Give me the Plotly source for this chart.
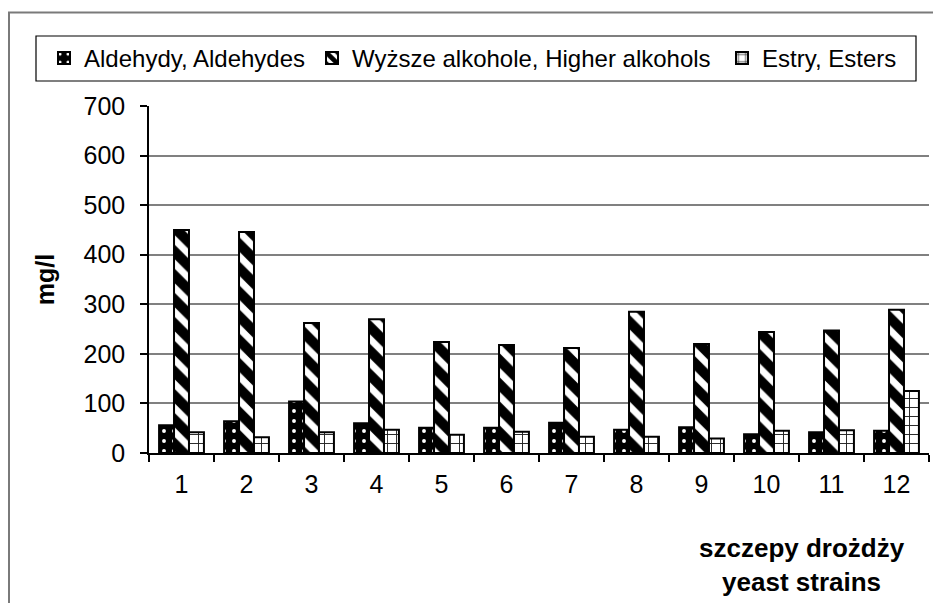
import plotly.graph_objects as go

# Yeast strain numbers and measured volatile compounds (mg/l)
strains = ["1", "2", "3", "4", "5", "6", "7", "8", "9", "10", "11", "12"]
aldehydes = [56, 64, 104, 60, 51, 51, 61, 47, 52, 38, 42, 45]
higher_alcohols = [450, 446, 262, 270, 224, 218, 212, 285, 220, 244, 247, 289]
esters = [42, 32, 42, 47, 37, 43, 33, 33, 29, 45, 46, 125]

names = ["Aldehydy, Aldehydes", "Wyższe alkohole, Higher alkohols", "Estry, Esters"]
y_ticks = [0, 100, 200, 300, 400, 500, 600, 700]

FONT = "Liberation Sans, Arial, sans-serif"

# figure geometry (pixels)
W, H = 933, 603
ML, MR, MT, MB = 149, 4, 106, 150
PW, PH = W - ML - MR, H - MT - MB


def px_x(px):
    return (px - ML) / PW


def px_y(py):
    return (H - MB - py) / PH


line = dict(color="black", width=2)

fig = go.Figure()
fig.add_trace(go.Bar(
    x=strains, y=aldehydes, name=names[0], legend="legend", showlegend=True,
    marker=dict(color="black", line=line,
                pattern=dict(shape=".", bgcolor="black", fgcolor="white",
                             fgopacity=1, size=10, solidity=0.12,
                             fillmode="overlay")),
))
fig.add_trace(go.Bar(
    x=strains, y=higher_alcohols, name=names[1], legend="legend2",
    showlegend=True,
    marker=dict(color="white", line=line,
                pattern=dict(shape="\\", bgcolor="white", fgcolor="black",
                             fgopacity=1, size=17, solidity=0.6,
                             fillmode="overlay")),
))
fig.add_trace(go.Bar(
    x=strains, y=esters, name=names[2], legend="legend3", showlegend=True,
    marker=dict(color="white", line=line,
                pattern=dict(shape="+", bgcolor="white", fgcolor="#222222",
                             fgopacity=1, size=9, solidity=0.2,
                             fillmode="overlay")),
))

legend_style = dict(
    orientation="h", yanchor="middle", xanchor="left",
    xref="container", yref="container",
    font=dict(family=FONT, size=24, color="black"),
    bgcolor="rgba(0,0,0,0)", borderwidth=0, itemwidth=30,
    visible=True,
)
ly = 1 - 58.5 / H

fig.update_layout(
    width=W, height=H,
    margin=dict(l=ML, r=MR, t=MT, b=MB, pad=0),
    paper_bgcolor="white", plot_bgcolor="white",
    showlegend=True,
    barmode="group", bargap=0.31, bargroupgap=0,
    font=dict(family=FONT, size=25, color="black"),
    legend=dict(x=44 / W, y=ly, **legend_style),
    legend2=dict(x=312 / W, y=ly, **legend_style),
    legend3=dict(x=722 / W, y=ly, **legend_style),
    xaxis=dict(
        type="category", range=[-0.5, 11.5],
        showline=True, linecolor="black", linewidth=1.5,
        ticks="outside", tickson="boundaries", ticklen=7, tickcolor="black",
        tickwidth=1.5, showgrid=False, zeroline=False,
        tickfont=dict(family=FONT, size=25, color="black"),
        ticklabelstandoff=8,
    ),
    yaxis=dict(
        range=[0, 700], tickvals=y_ticks,
        showline=True, linecolor="black", linewidth=1.5,
        ticks="outside", ticklen=7, tickcolor="black", tickwidth=1.5,
        showgrid=True, gridcolor="#808080", gridwidth=1.5, zeroline=False,
        tickfont=dict(family=FONT, size=25, color="black"),
        ticklabelstandoff=10,
        title=dict(text="<b>mg/l</b>", font=dict(family=FONT, size=25),
                   standoff=22),
    ),
    shapes=[
        # outer chart frame
        dict(type="rect", xref="paper", yref="paper",
             x0=px_x(9), x1=px_x(950), y0=px_y(620), y1=px_y(12.5),
             line=dict(color="#7a7a7a", width=2), fillcolor="rgba(0,0,0,0)",
             layer="below"),
        # legend border
        dict(type="rect", xref="paper", yref="paper",
             x0=px_x(36), x1=px_x(916), y0=px_y(81), y1=px_y(36),
             line=dict(color="black", width=1.2), fillcolor="rgba(0,0,0,0)"),
    ],
    annotations=[
        dict(text="<b>szczepy drożdży<br>yeast strains</b>",
             xref="paper", yref="paper", x=px_x(802), y=px_y(565),
             xanchor="center", yanchor="middle", showarrow=False,
             align="center", font=dict(family=FONT, size=26, color="black")),
    ],
)

fig.write_html("out.html")
